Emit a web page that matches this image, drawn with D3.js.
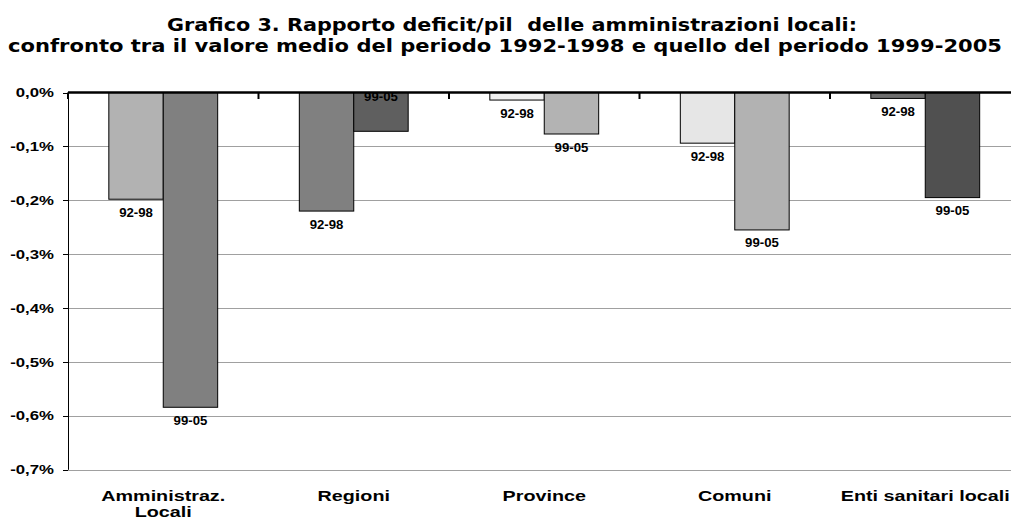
<!DOCTYPE html>
<html><head><meta charset="utf-8">
<script src="https://cdn.jsdelivr.net/npm/d3@7"></script>
<style>
html,body{margin:0;padding:0;background:#fff;}
svg{display:block;}
</style></head>
<body>
<svg id="c" width="1011" height="522"></svg>
<script>
const titleLines = [
  "Grafico 3. Rapporto deficit/pil  delle amministrazioni locali:",
  "confronto tra il valore medio del periodo 1992-1998 e quello del periodo 1999-2005"
];
const categories = ["Amministraz.\nLocali", "Regioni", "Province", "Comuni", "Enti sanitari locali"];
const seriesNames = ["92-98", "99-05"];
const values9298 = [-0.198, -0.220, -0.014, -0.094, -0.011];
const values9905 = [-0.584, -0.072, -0.077, -0.255, -0.195];
const colors9298 = ["#b2b2b2", "#808080", "#f0f0f0", "#e6e6e6", "#6e6e6e"];
const colors9905 = ["#808080", "#5f5f5f", "#b3b3b3", "#b2b2b2", "#505050"];
const yTicks = [0, -0.1, -0.2, -0.3, -0.4, -0.5, -0.6, -0.7];
const yTickLabels = ["0,0%", "-0,1%", "-0,2%", "-0,3%", "-0,4%", "-0,5%", "-0,6%", "-0,7%"];
// labels drawn at the base (inside, near zero) instead of outside end
const labelsAtBase = ["Regioni|99-05"];

(function () {
const svg = d3.select("#c");
const FONT = "'Liberation Sans', Arial, sans-serif";

const pLeft = 68, pRight = 1020.5, pTop = 92.5, pBottom = 469.8;
const y = d3.scaleLinear().domain([-0.7, 0]).range([pBottom, pTop]);
const x0 = d3.scaleBand().domain(categories).range([pLeft, pRight]).padding(0);
const x1 = d3.scaleBand().domain(seriesNames).range([0, x0.bandwidth()]).paddingInner(0).paddingOuter(0.75);

// title
svg.append("text").attr("x", 167).attr("y", 31)
  .attr("font-family", "'DejaVu Sans', Verdana, sans-serif").attr("font-weight", "bold")
  .attr("font-size", 17).attr("textLength", 690).attr("lengthAdjust", "spacingAndGlyphs")
  .style("white-space", "pre")
  .attr("fill", "#000").text(titleLines[0]);
svg.append("text").attr("x", 8).attr("y", 52)
  .attr("font-family", "'DejaVu Sans', Verdana, sans-serif").attr("font-weight", "bold")
  .attr("font-size", 17).attr("textLength", 994).attr("lengthAdjust", "spacingAndGlyphs")
  .attr("fill", "#000").text(titleLines[1]);

// gridlines
svg.append("g").selectAll("line").data(yTicks.filter(d => d !== 0)).join("line")
  .attr("x1", pLeft).attr("x2", 1011)
  .attr("y1", d => Math.round(y(d)) + 0.5).attr("y2", d => Math.round(y(d)) + 0.5)
  .attr("stroke", "#a0a0a0").attr("stroke-width", 1);

// left axis ticks
svg.append("g").selectAll("line").data(yTicks).join("line")
  .attr("x1", pLeft - 5).attr("x2", pLeft)
  .attr("y1", d => Math.round(y(d)) + 0.5).attr("y2", d => Math.round(y(d)) + 0.5)
  .attr("stroke", "#000").attr("stroke-width", 1);
svg.append("line").attr("x1", pLeft + 0.5).attr("x2", pLeft + 0.5)
  .attr("y1", pTop).attr("y2", pBottom).attr("stroke", "#000").attr("stroke-width", 1);

// y tick labels
svg.append("g").selectAll("text").data(yTicks).join("text")
  .attr("transform", d => `translate(54,${y(d) + 4.5}) scale(1.4,1)`)
  .attr("text-anchor", "end")
  .attr("font-family", FONT).attr("font-weight", "bold").attr("font-size", 12)
  .attr("fill", "#000")
  .text((d, i) => yTickLabels[i]);

// bars
const rows = [];
categories.forEach((c, i) => {
  rows.push({cat: c, s: seriesNames[0], v: values9298[i], col: colors9298[i]});
  rows.push({cat: c, s: seriesNames[1], v: values9905[i], col: colors9905[i]});
});
const gb = svg.append("g");
gb.selectAll("rect").data(rows).join("rect")
  .attr("x", d => x0(d.cat) + x1(d.s))
  .attr("y", d => y(0))
  .attr("width", x1.bandwidth())
  .attr("height", d => y(d.v) - y(0))
  .attr("fill", d => d.col)
  .attr("stroke", "#000").attr("stroke-width", 1);

// bar labels
gb.selectAll("text").data(rows).join("text")
  .attr("transform", d => {
    const cx = x0(d.cat) + x1(d.s) + x1.bandwidth() / 2;
    const key = d.cat + "|" + d.s;
    const yy = labelsAtBase.includes(key) ? y(0) + 8.5 : y(d.v) + 17.5;
    return `translate(${cx},${yy}) scale(1.1,1)`;
  })
  .attr("text-anchor", "middle")
  .attr("font-family", FONT).attr("font-weight", "bold").attr("font-size", 12)
  .attr("fill", "#000")
  .text(d => d.s);

// zero line
svg.append("line").attr("x1", pLeft).attr("x2", 1011)
  .attr("y1", y(0)).attr("y2", y(0))
  .attr("stroke", "#000").attr("stroke-width", 2.5);
// category tick marks
const bounds = categories.map(c => x0(c)).concat([x0(categories[categories.length - 1]) + x0.bandwidth()]);
svg.append("g").selectAll("line").data(bounds.filter(b => b < 1011)).join("line")
  .attr("x1", d => d).attr("x2", d => d)
  .attr("y1", y(0)).attr("y2", y(0) + 6.5)
  .attr("stroke", "#000").attr("stroke-width", 2);

// category labels
const gc = svg.append("g");
categories.forEach(c => {
  const lines = c.split("\n");
  const cx = x0(c) + x0.bandwidth() / 2;
  lines.forEach((ln, j) => {
    gc.append("text")
      .attr("transform", `translate(${cx},${501 + j * 16}) scale(1.41,1)`)
      .attr("text-anchor", "middle")
      .attr("font-family", FONT).attr("font-weight", "bold").attr("font-size", 14)
      .attr("fill", "#000").text(ln);
  });
});
})();
</script>
</body></html>
